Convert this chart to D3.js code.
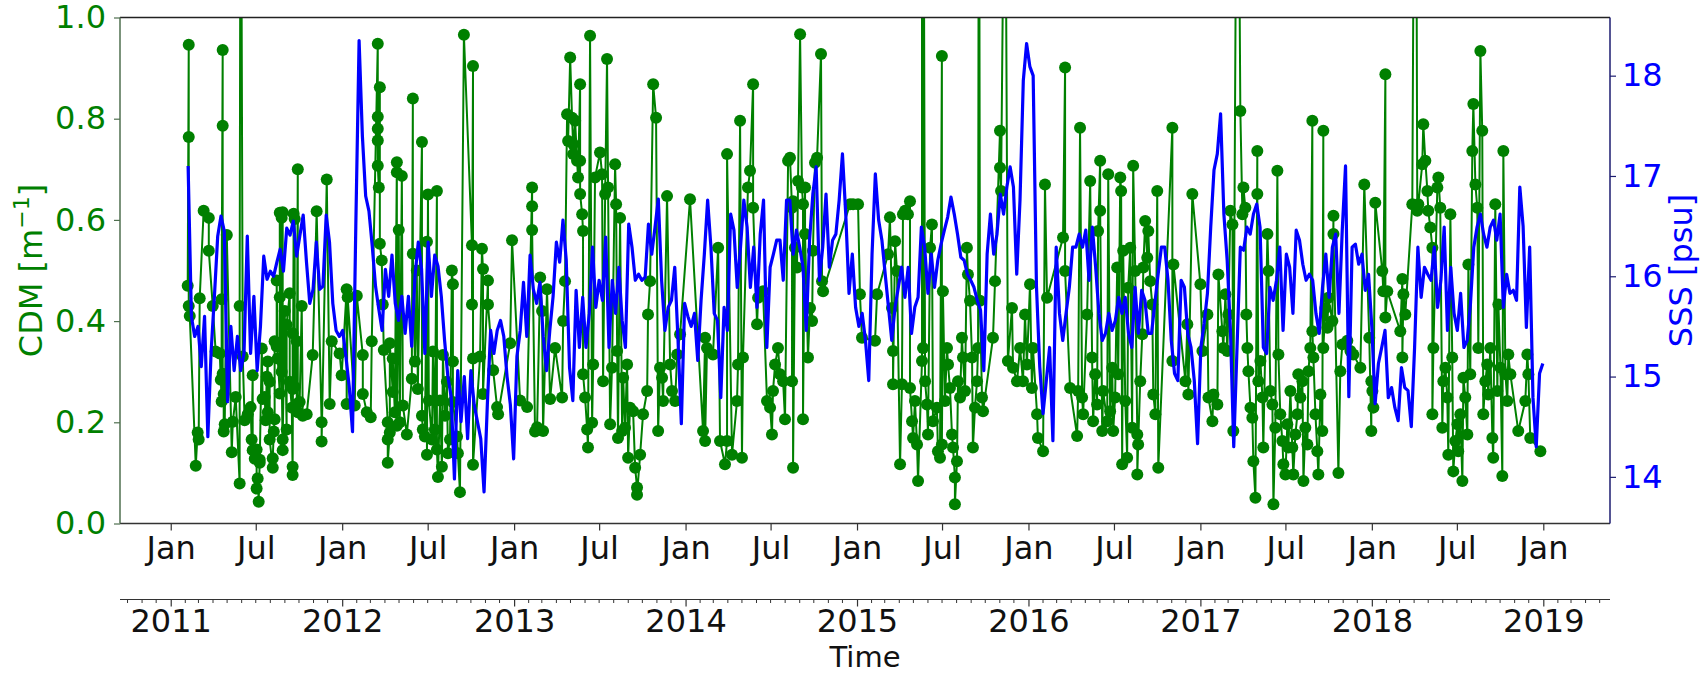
<!DOCTYPE html>
<html>
<head>
<meta charset="utf-8">
<script src="https://cdn.jsdelivr.net/npm/d3@7"></script>
<style>
  body { margin: 0; background: #ffffff; }
  svg { display: block; }
  text { font-family: "DejaVu Sans", sans-serif; }
</style>
</head>
<body>
<svg id="chart" width="1707" height="674"></svg>
<script>
// Sea surface salinity, weekly record starting on sssStart
const sssStart = "2011-02-07";
const sssStepDays = 7;
const sssValues = [
  17.1, 15.6, 15.4, 15.5, 15.1, 15.6, 14.4, 15.25, 15.8, 16.4,
  16.6, 16.45, 14.75, 15.5, 15.06, 15.4, 15.06, 15.23, 16.4, 15.23,
  15.8, 15.06, 15.5, 16.2, 15.97, 16.05, 16.0, 16.14, 16.27, 16.05,
  16.48, 16.41, 16.55, 16.2, 16.41, 16.61, 16.14, 15.73, 15.87, 16.34,
  15.87, 15.9, 16.61, 16.34, 15.73, 15.46, 15.4, 15.46, 15.2, 14.9,
  14.45, 16.5, 18.35, 17.4, 16.8, 16.65, 16.3, 15.9, 15.67, 15.46,
  16.07, 15.8, 16.21, 15.73, 15.56, 15.8, 15.43, 15.8, 15.3, 16.0,
  16.34, 16.07, 15.23, 16.34, 15.8, 16.21, 16.1, 15.8, 15.36, 15.0,
  14.8, 13.98, 15.06, 14.55, 15.0, 14.38, 15.06, 14.72, 14.55, 14.38,
  13.85, 14.72, 15.46, 15.23, 15.46, 15.56, 15.4, 15.0, 14.72, 14.18,
  15.2, 15.46, 15.94, 15.4, 16.21, 15.87, 15.73, 15.94, 15.4, 15.06,
  15.46, 15.8, 16.34, 16.14,
  16.56, 16.16, 15.09, 14.76, 15.86, 15.29, 15.79, 15.29, 15.63, 16.29,
  15.69, 15.96, 15.76, 16.39, 15.29, 15.96, 15.63, 16.09, 15.56, 15.29,
  16.52, 16.29, 15.96, 16.02, 15.96, 15.99, 16.52, 16.22, 16.49, 16.77,
  15.96, 15.46, 15.69, 15.76, 16.09, 15.36, 14.53, 15.73, 15.6, 15.5,
  15.63, 15.16, 15.76, 16.22, 16.76, 16.29, 15.63, 15.56, 14.79, 15.69,
  15.46, 16.62, 16.46, 15.89, 16.29, 16.76, 16.49, 15.89, 16.29, 15.69,
  16.42, 16.76, 15.29, 16.09, 16.22, 16.36, 16.36, 15.96, 16.76, 16.76,
  16.22, 16.46, 16.29, 16.09, 15.46, 16.36, 16.82, 17.09, 15.96, 16.29,
  16.82, 16.09, 16.36, 16.42, 16.76, 17.22, 16.62, 15.83, 16.22, 15.69,
  15.5, 15.63, 15.36, 14.96, 16.22, 17.02, 16.56, 16.36, 16.02, 15.69,
  15.36, 15.69, 15.89, 16.09, 15.79, 16.09, 15.43, 15.69, 15.79, 16.49,
  16.29, 15.83, 16.22, 15.89, 16.16, 16.32, 16.46, 16.59, 16.79, 16.62,
  16.42, 16.19, 16.16, 16.02, 15.96, 15.89, 15.76, 15.66, 15.06, 16.22,
  16.62, 16.22, 16.42, 16.82, 16.62, 16.89, 17.09, 16.89, 16.02, 16.76,
  17.95, 18.32, 18.09, 18.0, 15.9, 15.1,
  14.63, 14.96, 15.29, 14.36, 16.29, 15.63, 15.36, 15.63, 15.89, 16.29,
  16.29, 16.42, 16.29, 16.46, 15.96, 16.49, 16.09, 15.63, 15.36, 15.43,
  15.63, 15.46, 15.56, 15.79, 15.63, 15.79, 15.43, 15.29, 15.89, 15.43,
  15.86, 15.76, 15.43, 15.43, 15.73, 16.02, 16.29, 16.29, 15.96, 15.36,
  15.03, 14.96, 15.96, 15.89, 15.43, 15.29, 14.96, 14.33, 15.29, 15.53,
  15.83, 16.49, 17.06, 17.22, 17.62, 16.62, 16.16, 15.46, 14.3, 15.29,
  16.29, 16.26, 16.49, 16.42, 16.62, 16.72, 16.49, 15.29, 15.23, 15.89,
  15.76, 15.96, 16.29, 15.46, 16.22, 16.09,
  15.63, 16.46, 16.36, 16.12, 15.96, 16.02, 15.96, 15.63, 15.43, 15.89,
  16.22, 15.79, 16.29, 16.42, 15.63, 16.46, 17.1, 14.8, 16.29, 16.32,
  16.12, 16.22, 15.86, 16.02, 15.49, 14.73, 15.13, 15.29, 15.46, 14.79,
  14.89, 14.69, 14.56, 15.09, 14.89, 14.86, 14.5, 15.29, 16.29, 15.79,
  16.09, 16.02, 15.96, 16.29, 15.69, 15.96, 16.49, 15.46, 16.09, 15.63,
  15.46, 15.83, 15.29, 15.36, 15.73, 16.29, 16.49, 16.62, 16.42, 16.29,
  16.49, 16.56, 16.36, 16.62, 15.69, 16.02, 15.83, 15.86, 15.76, 16.89,
  16.5, 15.49, 16.29, 14.79, 14.3, 15.03, 15.13
];

// Coloured dissolved matter absorption: [decimal year, m^-1]
const cdmObs = [
  [2011.099, 0.47], [2011.105, 0.946], [2011.105, 0.764], [2011.105, 0.43], [2011.111, 0.41],
  [2011.146, 0.114], [2011.157, 0.18], [2011.163, 0.166], [2011.169, 0.445], [2011.192, 0.618],
  [2011.222, 0.604], [2011.222, 0.539], [2011.245, 0.43], [2011.262, 0.34], [2011.286, 0.336],
  [2011.292, 0.284], [2011.297, 0.241], [2011.297, 0.443], [2011.303, 0.936], [2011.303, 0.786],
  [2011.303, 0.296], [2011.309, 0.256], [2011.309, 0.182], [2011.315, 0.196], [2011.327, 0.57],
  [2011.356, 0.141], [2011.362, 0.201], [2011.379, 0.25], [2011.402, 0.079], [2011.402, 0.43],
  [2011.408, 1.6], [2011.42, 0.33], [2011.431, 0.204], [2011.449, 0.216], [2011.466, 0.23],
  [2011.472, 0.166], [2011.478, 0.293], [2011.478, 0.145], [2011.49, 0.128], [2011.501, 0.146],
  [2011.501, 0.069], [2011.507, 0.089], [2011.513, 0.043], [2011.519, 0.126], [2011.519, 0.12],
  [2011.531, 0.346], [2011.536, 0.246], [2011.548, 0.25], [2011.554, 0.204], [2011.56, 0.29],
  [2011.566, 0.32], [2011.566, 0.22], [2011.577, 0.28], [2011.577, 0.166], [2011.595, 0.11],
  [2011.595, 0.129], [2011.601, 0.182], [2011.606, 0.206], [2011.606, 0.36], [2011.618, 0.35],
  [2011.618, 0.48], [2011.624, 0.326], [2011.636, 0.257], [2011.636, 0.447], [2011.636, 0.614],
  [2011.647, 0.604], [2011.647, 0.3], [2011.653, 0.145], [2011.653, 0.615], [2011.653, 0.166],
  [2011.665, 0.42], [2011.676, 0.186], [2011.676, 0.393], [2011.694, 0.455], [2011.694, 0.28],
  [2011.706, 0.229], [2011.711, 0.096], [2011.711, 0.376], [2011.711, 0.266], [2011.711, 0.112],
  [2011.717, 0.612], [2011.723, 0.602], [2011.723, 0.27], [2011.735, 0.36], [2011.735, 0.236],
  [2011.741, 0.7], [2011.741, 0.22], [2011.752, 0.24], [2011.764, 0.43], [2011.77, 0.213],
  [2011.793, 0.216], [2011.828, 0.333], [2011.851, 0.617], [2011.88, 0.2], [2011.88, 0.162],
  [2011.91, 0.68], [2011.927, 0.236], [2011.939, 0.36], [2011.985, 0.336], [2011.997, 0.293],
  [2012.026, 0.463], [2012.032, 0.447], [2012.026, 0.236], [2012.073, 0.233], [2012.085, 0.45],
  [2012.12, 0.333], [2012.12, 0.256], [2012.143, 0.22], [2012.166, 0.21], [2012.172, 0.36],
  [2012.207, 0.948], [2012.207, 0.804], [2012.207, 0.78], [2012.207, 0.757], [2012.207, 0.707],
  [2012.213, 0.664], [2012.219, 0.862], [2012.219, 0.553], [2012.23, 0.52], [2012.236, 0.433],
  [2012.242, 0.343], [2012.265, 0.2], [2012.265, 0.166], [2012.265, 0.12], [2012.277, 0.18],
  [2012.277, 0.356], [2012.294, 0.26], [2012.294, 0.326], [2012.306, 0.22], [2012.318, 0.714],
  [2012.318, 0.694], [2012.318, 0.193], [2012.329, 0.58], [2012.335, 0.2], [2012.347, 0.687],
  [2012.353, 0.233], [2012.376, 0.176], [2012.405, 0.286], [2012.411, 0.84], [2012.411, 0.533],
  [2012.423, 0.32], [2012.434, 0.5], [2012.44, 0.266], [2012.464, 0.754], [2012.464, 0.213],
  [2012.469, 0.186], [2012.481, 0.172], [2012.493, 0.557], [2012.493, 0.136], [2012.499, 0.65],
  [2012.504, 0.243], [2012.522, 0.166], [2012.528, 0.34], [2012.539, 0.186], [2012.551, 0.657],
  [2012.551, 0.146], [2012.557, 0.092], [2012.569, 0.243], [2012.58, 0.112], [2012.586, 0.333],
  [2012.598, 0.213], [2012.609, 0.28], [2012.615, 0.139], [2012.627, 0.166], [2012.638, 0.5],
  [2012.644, 0.473], [2012.644, 0.32], [2012.644, 0.24], [2012.668, 0.172], [2012.673, 0.139],
  [2012.685, 0.062], [2012.708, 0.966], [2012.755, 0.55], [2012.755, 0.433], [2012.761, 0.904],
  [2012.761, 0.326], [2012.761, 0.116], [2012.802, 0.33], [2012.813, 0.543], [2012.819, 0.503],
  [2012.819, 0.256], [2012.848, 0.48], [2012.848, 0.433], [2012.878, 0.303], [2012.901, 0.23],
  [2012.907, 0.216], [2012.977, 0.356], [2012.988, 0.56],
  [2013.035, 0.243], [2013.076, 0.23], [2013.105, 0.664], [2013.105, 0.627], [2013.105, 0.58],
  [2013.122, 0.182], [2013.134, 0.19], [2013.152, 0.486], [2013.163, 0.42], [2013.169, 0.183],
  [2013.192, 0.463], [2013.21, 0.246], [2013.239, 0.347], [2013.28, 0.249], [2013.286, 0.4],
  [2013.297, 0.479], [2013.309, 0.809], [2013.315, 0.756], [2013.327, 0.921], [2013.338, 0.802],
  [2013.344, 0.75], [2013.344, 0.73], [2013.356, 0.796], [2013.367, 0.717], [2013.373, 0.684],
  [2013.385, 0.868], [2013.385, 0.717], [2013.385, 0.651], [2013.397, 0.611], [2013.402, 0.578],
  [2013.402, 0.295], [2013.414, 0.249], [2013.426, 0.186], [2013.431, 0.15], [2013.443, 0.964],
  [2013.455, 0.199], [2013.461, 0.314], [2013.472, 0.684], [2013.501, 0.733], [2013.513, 0.69],
  [2013.519, 0.281], [2013.531, 0.651], [2013.542, 0.918], [2013.548, 0.664], [2013.56, 0.196],
  [2013.571, 0.308], [2013.589, 0.71], [2013.595, 0.631], [2013.601, 0.341], [2013.606, 0.169],
  [2013.618, 0.604], [2013.63, 0.183], [2013.636, 0.288], [2013.647, 0.189], [2013.659, 0.314],
  [2013.665, 0.13], [2013.676, 0.229], [2013.694, 0.222], [2013.706, 0.11], [2013.717, 0.071],
  [2013.717, 0.057], [2013.735, 0.136], [2013.752, 0.216], [2013.776, 0.262], [2013.781, 0.413],
  [2013.793, 0.479], [2013.811, 0.868], [2013.828, 0.802], [2013.84, 0.183], [2013.851, 0.308],
  [2013.863, 0.288], [2013.869, 0.242], [2013.892, 0.647], [2013.91, 0.314], [2013.921, 0.262],
  [2013.939, 0.242], [2013.951, 0.334], [2013.968, 0.374],
  [2014.026, 0.641], [2014.102, 0.183], [2014.114, 0.367], [2014.114, 0.163], [2014.125, 0.347],
  [2014.16, 0.334], [2014.19, 0.545], [2014.201, 0.163], [2014.23, 0.117], [2014.242, 0.163],
  [2014.242, 0.73], [2014.271, 0.136], [2014.3, 0.242], [2014.306, 0.314], [2014.318, 0.796],
  [2014.329, 0.13], [2014.335, 0.328], [2014.364, 0.664], [2014.376, 0.697], [2014.394, 0.868],
  [2014.394, 0.624], [2014.417, 0.394], [2014.423, 0.446], [2014.452, 0.459], [2014.475, 0.242],
  [2014.493, 0.229], [2014.504, 0.176], [2014.51, 0.262], [2014.522, 0.314], [2014.539, 0.347],
  [2014.551, 0.295], [2014.569, 0.281], [2014.58, 0.206], [2014.598, 0.717], [2014.609, 0.723],
  [2014.621, 0.624], [2014.621, 0.281], [2014.627, 0.637], [2014.627, 0.11], [2014.638, 0.545],
  [2014.65, 0.506], [2014.656, 0.677], [2014.668, 0.967], [2014.679, 0.664], [2014.685, 0.631],
  [2014.685, 0.206], [2014.697, 0.664], [2014.697, 0.572], [2014.714, 0.328], [2014.726, 0.426],
  [2014.738, 0.4], [2014.743, 0.539], [2014.755, 0.713], [2014.767, 0.723], [2014.79, 0.928],
  [2014.796, 0.479], [2014.802, 0.459], [2014.959, 0.631], [2014.977, 0.631],
  [2015.006, 0.631], [2015.017, 0.453], [2015.029, 0.367], [2015.105, 0.361], [2015.117, 0.453],
  [2015.181, 0.532], [2015.192, 0.605], [2015.204, 0.426], [2015.21, 0.341], [2015.21, 0.275],
  [2015.222, 0.558], [2015.233, 0.499], [2015.251, 0.117], [2015.262, 0.275], [2015.268, 0.611],
  [2015.28, 0.618], [2015.297, 0.611], [2015.309, 0.637], [2015.309, 0.268], [2015.321, 0.202],
  [2015.327, 0.169], [2015.338, 0.242], [2015.35, 0.156], [2015.356, 0.084], [2015.379, 0.321],
  [2015.379, 1.8], [2015.385, 0.347], [2015.385, 1.8], [2015.397, 0.281], [2015.408, 0.235],
  [2015.414, 0.176], [2015.426, 0.545], [2015.437, 0.591], [2015.443, 0.202], [2015.466, 0.229],
  [2015.472, 0.143], [2015.484, 0.13], [2015.495, 0.924], [2015.495, 0.156], [2015.501, 0.459],
  [2015.513, 0.242], [2015.525, 0.347], [2015.531, 0.314], [2015.542, 0.268], [2015.554, 0.176],
  [2015.56, 0.15], [2015.571, 0.091], [2015.571, 0.038], [2015.583, 0.123], [2015.589, 0.281],
  [2015.601, 0.249], [2015.612, 0.367], [2015.618, 0.328], [2015.63, 0.262], [2015.641, 0.545],
  [2015.647, 0.492], [2015.659, 0.44], [2015.671, 0.328], [2015.676, 0.15], [2015.688, 0.229],
  [2015.7, 0.281], [2015.706, 0.347], [2015.711, 1.6], [2015.717, 0.44], [2015.729, 0.249],
  [2015.735, 0.222], [2015.793, 0.367], [2015.805, 0.479], [2015.834, 0.776], [2015.834, 0.703],
  [2015.84, 0.657], [2015.863, 1.5], [2015.88, 0.321], [2015.904, 0.426], [2015.91, 0.308],
  [2015.933, 0.281], [2015.951, 0.347], [2015.968, 0.281], [2015.98, 0.413], [2015.991, 0.314],
  [2016.009, 0.473], [2016.02, 0.268], [2016.026, 0.347], [2016.05, 0.216], [2016.055, 0.169],
  [2016.085, 0.143], [2016.096, 0.67], [2016.108, 0.446], [2016.201, 0.565], [2016.213, 0.901],
  [2016.213, 0.499], [2016.242, 0.268], [2016.283, 0.173], [2016.289, 0.262], [2016.3, 0.782],
  [2016.312, 0.249], [2016.318, 0.216], [2016.341, 0.413], [2016.359, 0.677], [2016.37, 0.328],
  [2016.376, 0.202], [2016.388, 0.295], [2016.399, 0.235], [2016.405, 0.578], [2016.417, 0.717],
  [2016.417, 0.618], [2016.429, 0.183], [2016.434, 0.262], [2016.458, 0.202], [2016.464, 0.69],
  [2016.475, 0.222], [2016.487, 0.308], [2016.493, 0.183], [2016.504, 0.249], [2016.516, 0.506],
  [2016.522, 0.295], [2016.534, 0.684], [2016.539, 0.657], [2016.545, 0.117], [2016.551, 0.539],
  [2016.563, 0.242], [2016.574, 0.13], [2016.58, 0.466], [2016.592, 0.545], [2016.603, 0.189],
  [2016.609, 0.707], [2016.621, 0.499], [2016.633, 0.176], [2016.633, 0.097], [2016.638, 0.156],
  [2016.65, 0.281], [2016.662, 0.374], [2016.668, 0.506], [2016.679, 0.598], [2016.691, 0.525],
  [2016.697, 0.578], [2016.708, 0.479], [2016.72, 0.433], [2016.726, 0.255], [2016.738, 0.216],
  [2016.749, 0.657], [2016.755, 0.11], [2016.837, 0.782], [2016.837, 0.321], [2016.843, 0.512],
  [2016.913, 0.281], [2016.924, 0.394], [2016.93, 0.255], [2016.953, 0.651],
  [2017.0, 0.473], [2017.012, 0.341], [2017.041, 0.413], [2017.047, 0.249], [2017.07, 0.202],
  [2017.076, 0.255], [2017.099, 0.235], [2017.105, 0.492], [2017.128, 0.38], [2017.134, 0.347],
  [2017.146, 0.453], [2017.157, 0.341], [2017.163, 0.413], [2017.175, 0.618], [2017.187, 0.591],
  [2017.192, 0.183], [2017.216, 1.7], [2017.233, 0.815], [2017.245, 0.611], [2017.251, 0.664],
  [2017.262, 0.624], [2017.268, 0.413], [2017.274, 0.347], [2017.28, 0.301], [2017.292, 0.229],
  [2017.303, 0.209], [2017.309, 0.123], [2017.321, 0.051], [2017.332, 0.736], [2017.332, 0.651],
  [2017.338, 0.281], [2017.35, 0.321], [2017.362, 0.249], [2017.367, 0.15], [2017.391, 0.572],
  [2017.397, 0.499], [2017.408, 0.262], [2017.42, 0.235], [2017.426, 0.038], [2017.437, 0.189],
  [2017.449, 0.697], [2017.455, 0.334], [2017.466, 0.216], [2017.478, 0.163], [2017.484, 0.117],
  [2017.496, 0.097], [2017.507, 0.196], [2017.513, 0.15], [2017.525, 0.262], [2017.536, 0.15],
  [2017.542, 0.097], [2017.554, 0.176], [2017.566, 0.216], [2017.571, 0.295], [2017.583, 0.249],
  [2017.595, 0.281], [2017.601, 0.084], [2017.612, 0.189], [2017.624, 0.156], [2017.63, 0.301],
  [2017.641, 0.347], [2017.653, 0.796], [2017.653, 0.38], [2017.659, 0.328], [2017.671, 0.216],
  [2017.682, 0.143], [2017.688, 0.097], [2017.7, 0.255], [2017.711, 0.183], [2017.717, 0.776],
  [2017.717, 0.347], [2017.729, 0.426], [2017.741, 0.387], [2017.746, 0.446], [2017.77, 0.4],
  [2017.776, 0.608], [2017.776, 0.572], [2017.805, 0.1], [2017.816, 0.301], [2017.828, 0.354],
  [2017.857, 0.361], [2017.875, 0.341], [2017.892, 0.334], [2017.933, 0.308], [2017.956, 0.67],
  [2017.985, 0.367], [2017.997, 0.183], [2017.997, 0.281],
  [2018.003, 0.262], [2018.009, 0.229], [2018.02, 0.634], [2018.061, 0.499], [2018.067, 0.459],
  [2018.079, 0.888], [2018.079, 0.407], [2018.09, 0.459], [2018.166, 0.38], [2018.178, 0.483],
  [2018.178, 0.328], [2018.184, 0.453], [2018.195, 0.413], [2018.236, 0.631], [2018.254, 1.9],
  [2018.265, 0.618], [2018.271, 0.631], [2018.294, 0.71], [2018.3, 0.789], [2018.312, 0.717],
  [2018.324, 0.657], [2018.329, 0.618], [2018.341, 0.585], [2018.353, 0.545], [2018.353, 0.216],
  [2018.359, 0.347], [2018.382, 0.664], [2018.388, 0.684], [2018.399, 0.624], [2018.411, 0.189],
  [2018.417, 0.281], [2018.429, 0.308], [2018.44, 0.249], [2018.446, 0.136], [2018.458, 0.611],
  [2018.469, 0.328], [2018.475, 0.103], [2018.487, 0.163], [2018.499, 0.196], [2018.504, 0.143],
  [2018.516, 0.216], [2018.528, 0.084], [2018.534, 0.288], [2018.545, 0.249], [2018.557, 0.176],
  [2018.563, 0.512], [2018.574, 0.295], [2018.586, 0.736], [2018.592, 0.829], [2018.604, 0.67],
  [2018.615, 0.624], [2018.621, 0.347], [2018.633, 0.934], [2018.644, 0.776], [2018.65, 0.216],
  [2018.662, 0.281], [2018.673, 0.314], [2018.679, 0.255], [2018.691, 0.347], [2018.703, 0.169],
  [2018.708, 0.13], [2018.72, 0.631], [2018.732, 0.262], [2018.738, 0.433], [2018.75, 0.308],
  [2018.761, 0.094], [2018.767, 0.736], [2018.779, 0.295], [2018.79, 0.242], [2018.796, 0.334],
  [2018.808, 0.295], [2018.854, 0.183], [2018.895, 0.242], [2018.907, 0.334], [2018.913, 0.295],
  [2018.924, 0.169], [2018.983, 0.143]
];

const cdmTicks = [0, 0.2, 0.4, 0.6, 0.8, 1.0];
const sssTicks = [14, 15, 16, 17, 18];
const cdmLabel = "CDM [m";
const cdmLabelSup = "\u22121";
const sssLabel = "SSS [psu]";
const timeLabel = "Time";

const plot = { left: 120, right: 1610, top: 17.5, bottom: 523.5 };
const lowerAxisY = 599.5;
const fontSize = 32;

const svg = d3.select("#chart");

function fromDecimalYear(t) {
  const y = Math.floor(t);
  const a = Date.UTC(y, 0, 1), b = Date.UTC(y + 1, 0, 1);
  return new Date(a + (t - y) * (b - a));
}

const x = d3.scaleUtc()
  .domain([new Date(Date.UTC(2010, 8, 15)), new Date(Date.UTC(2019, 4, 23))])
  .range([plot.left, plot.right]);
const yCdm = d3.scaleLinear().domain([0, 1]).range([plot.bottom, plot.top]);
const ySss = d3.scaleLinear().domain([13.535, 18.58]).range([plot.bottom, plot.top]);

const sssStartDate = new Date(sssStart + "T00:00:00Z");
const sssSeries = sssValues.map((v, i) => ({ date: d3.utcDay.offset(sssStartDate, i * sssStepDays), value: v }));
const cdmSeries = cdmObs
  .map(([t, v]) => ({ date: fromDecimalYear(t), value: v }))
  .sort((a, b) => a.date - b.date);

// plot clip
svg.append("defs").append("clipPath").attr("id", "plot-clip")
  .append("rect")
  .attr("x", plot.left).attr("y", plot.top)
  .attr("width", plot.right - plot.left).attr("height", plot.bottom - plot.top);

const data = svg.append("g").attr("clip-path", "url(#plot-clip)");

data.append("path")
  .datum(cdmSeries)
  .attr("fill", "none")
  .attr("stroke", "green")
  .attr("stroke-width", 2)
  .attr("d", d3.line().x(d => x(d.date)).y(d => yCdm(d.value)));

data.append("g")
  .selectAll("circle")
  .data(cdmSeries)
  .join("circle")
  .attr("cx", d => x(d.date))
  .attr("cy", d => yCdm(d.value))
  .attr("r", 6)
  .attr("fill", "green");

data.append("path")
  .datum(sssSeries)
  .attr("fill", "none")
  .attr("stroke", "blue")
  .attr("stroke-width", 3.2)
  .attr("stroke-linejoin", "round")
  .attr("d", d3.line().x(d => x(d.date)).y(d => ySss(d.value)));

// frame
const frame = svg.append("g").attr("fill", "none").attr("stroke-width", 1.5);
frame.append("line").attr("x1", plot.left).attr("x2", plot.right).attr("y1", plot.top).attr("y2", plot.top).attr("stroke", "#222");
frame.append("line").attr("x1", plot.left).attr("x2", plot.right).attr("y1", plot.bottom).attr("y2", plot.bottom).attr("stroke", "#333");
frame.append("line").attr("x1", plot.left).attr("x2", plot.left).attr("y1", plot.top).attr("y2", plot.bottom).attr("stroke", "#4f6f4f");
frame.append("line").attr("x1", plot.right).attr("x2", plot.right).attr("y1", plot.top).attr("y2", plot.bottom).attr("stroke", "#1c1c70");

function styleAxis(g, color, tickColor) {
  g.select(".domain").remove();
  g.selectAll(".tick line").attr("stroke", tickColor).attr("stroke-width", 1.2);
  g.selectAll(".tick text")
    .attr("fill", color)
    .style("font-size", fontSize + "px")
    .style("font-family", '"DejaVu Sans", sans-serif');
}

// left axis (CDM)
svg.append("g")
  .attr("transform", `translate(${plot.left},0)`)
  .call(d3.axisLeft(yCdm).tickValues(cdmTicks).tickFormat(d3.format(".1f")).tickSize(6).tickPadding(8))
  .call(g => styleAxis(g, "green", "#4f6f4f"));

// right axis (SSS)
svg.append("g")
  .attr("transform", `translate(${plot.right},0)`)
  .call(d3.axisRight(ySss).tickValues(sssTicks).tickFormat(d3.format("d")).tickSize(6).tickPadding(6))
  .call(g => styleAxis(g, "blue", "#1c1c70"));

// month axis under the plot
const monthTicks = d3.utcMonth.every(6).range(new Date(Date.UTC(2011, 0, 1)), new Date(Date.UTC(2019, 0, 2)));
svg.append("g")
  .attr("transform", `translate(0,${plot.bottom})`)
  .call(d3.axisBottom(x).tickValues(monthTicks).tickFormat(d3.utcFormat("%b")).tickSize(7).tickPadding(6))
  .call(g => styleAxis(g, "#111", "#333"));

// year axis with monthly minor ticks
const yearAxis = svg.append("g").attr("transform", `translate(0,${lowerAxisY})`);
yearAxis.append("line")
  .attr("x1", plot.left).attr("x2", plot.right)
  .attr("stroke", "#333").attr("stroke-width", 1.2);
const minorMonths = d3.utcMonth.range(x.domain()[0], x.domain()[1]).filter(d => d.getUTCMonth() !== 0);
yearAxis.append("g")
  .selectAll("line")
  .data(minorMonths)
  .join("line")
  .attr("x1", d => x(d)).attr("x2", d => x(d))
  .attr("y1", 0).attr("y2", 3.5)
  .attr("stroke", "#333").attr("stroke-width", 1);
const yearTicks = d3.utcYear.range(new Date(Date.UTC(2011, 0, 1)), new Date(Date.UTC(2019, 0, 2)));
yearAxis.append("g")
  .call(d3.axisBottom(x).tickValues(yearTicks).tickFormat(d3.utcFormat("%Y")).tickSize(7).tickPadding(3))
  .call(g => styleAxis(g, "#111", "#333"));

// axis titles
const midY = (plot.top + plot.bottom) / 2;
const leftTitle = svg.append("text")
  .attr("transform", `translate(42,${midY}) rotate(-90)`)
  .attr("text-anchor", "middle")
  .attr("fill", "green")
  .style("font-size", fontSize + "px");
leftTitle.append("tspan").text(cdmLabel);
leftTitle.append("tspan").attr("dy", -13).style("font-size", "22px").text(cdmLabelSup);
leftTitle.append("tspan").attr("dy", 13).text("]");

svg.append("text")
  .attr("transform", `translate(1692,${midY}) rotate(-90)`)
  .attr("text-anchor", "middle")
  .attr("fill", "blue")
  .style("font-size", fontSize + "px")
  .text(sssLabel);

svg.append("text")
  .attr("x", (plot.left + plot.right) / 2)
  .attr("y", 667)
  .attr("text-anchor", "middle")
  .attr("fill", "#111")
  .style("font-size", "29px")
  .text(timeLabel);
</script>
</body>
</html>
